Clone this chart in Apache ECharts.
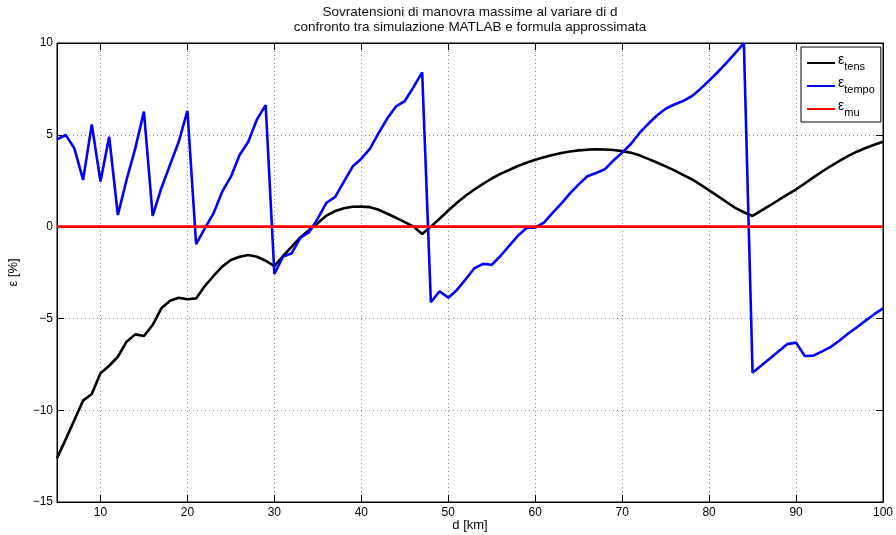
<!DOCTYPE html>
<html>
<head>
<meta charset="utf-8">
<script src="https://cdn.jsdelivr.net/npm/echarts@6/dist/echarts.min.js"></script>
<style>html,body{margin:0;padding:0;background:#fff}#c{width:896px;height:535px}</style>
</head>
<body>
<div id="c"></div>
<script>
const d = [5,6,7,8,9,10,11,12,13,14,15,16,17,18,19,20,21,22,23,24,25,26,27,28,29,30,31,32,33,34,35,36,37,38,39,40,41,42,43,44,45,46,47,48,49,50,51,52,53,54,55,56,57,58,59,60,61,62,63,64,65,66,67,68,69,70,71,72,73,74,75,76,77,78,79,80,81,82,83,84,85,86,87,88,89,90,91,92,93,94,95,96,97,98,99,100];
const epsTens = [-12.62,-11.59,-10.53,-9.48,-9.12,-7.99,-7.58,-7.09,-6.27,-5.87,-5.96,-5.36,-4.45,-4.04,-3.87,-3.96,-3.91,-3.24,-2.69,-2.18,-1.82,-1.64,-1.55,-1.64,-1.86,-2.15,-1.6,-1.09,-0.58,-0.19,0.2,0.6,0.85,1.0,1.08,1.09,1.06,0.92,0.7,0.48,0.24,0.0,-0.4,0.0,0.43,0.88,1.3,1.68,2.02,2.33,2.62,2.87,3.08,3.3,3.48,3.64,3.78,3.9,4.01,4.09,4.15,4.19,4.21,4.2,4.17,4.11,4.02,3.88,3.69,3.49,3.28,3.06,2.82,2.58,2.29,1.97,1.66,1.34,1.02,0.78,0.58,0.87,1.15,1.45,1.74,2.03,2.35,2.68,3.0,3.3,3.58,3.85,4.08,4.28,4.46,4.62];
const epsTempo = [4.75,4.99,4.26,2.54,5.57,2.45,4.9,0.63,2.54,4.26,6.26,0.58,2.09,3.36,4.62,6.31,-0.95,-0.1,0.72,1.9,2.72,3.9,4.62,5.84,6.62,-2.58,-1.63,-1.45,-0.6,-0.3,0.45,1.3,1.62,2.45,3.27,3.7,4.25,5.1,5.9,6.55,6.84,7.6,8.4,-4.12,-3.52,-3.87,-3.45,-2.87,-2.27,-2.03,-2.08,-1.6,-1.05,-0.5,-0.08,-0.05,0.22,0.75,1.25,1.81,2.3,2.74,2.92,3.12,3.6,4.03,4.5,5.1,5.6,6.05,6.42,6.65,6.84,7.1,7.5,7.95,8.42,8.92,9.45,9.98,-7.96,-7.57,-7.18,-6.79,-6.4,-6.32,-7.05,-7.03,-6.8,-6.55,-6.2,-5.82,-5.48,-5.12,-4.77,-4.45];
const epsMu = [0,0,0,0,0,0,0,0,0,0,0,0,0,0,0,0,0,0,0,0,0,0,0,0,0,0,0,0,0,0,0,0,0,0,0,0,0,0,0,0,0,0,0,0,0,0,0,0,0,0,0,0,0,0,0,0,0,0,0,0,0,0,0,0,0,0,0,0,0,0,0,0,0,0,0,0,0,0,0,0,0,0,0,0,0,0,0,0,0,0,0,0,0,0,0,0];
const xTicks = [10,20,30,40,50,60,70,80,90,100];
const yTicks = [-15,-10,-5,0,5,10];
const seriesNames = ['tens','tempo','mu'];
const titleLines = ['Sovratensioni di manovra massime al variare di d','confronto tra simulazione MATLAB e formula approssimata'];

const FONT = 'Liberation Sans, Arial, Helvetica, sans-serif';
const pairs = arr => d.map((x,i)=>[x,arr[i]]);
const fmtY = v => v < 0 ? '\u2212' + Math.abs(v) : String(v);

const chart = echarts.init(document.getElementById('c'), null, {renderer:'canvas'});
const baseX = {type:'value', min:5, max:100, gridIndex:0};
const baseY = {type:'value', min:-15, max:10, interval:5, gridIndex:0};
chart.setOption({
  animation:false,
  backgroundColor:'#fff',
  textStyle:{fontFamily:FONT},
  title:{
    text: titleLines.join('\n'),
    left: 470, top: 5, textAlign:'center', padding:0,
    textStyle:{fontFamily:FONT, fontSize:13.5, fontWeight:'normal', color:'#111', lineHeight:15}
  },
  grid:{left:57, right:13, top:43, bottom:33, show:true, borderColor:'#000', borderWidth:1, backgroundColor:'transparent', containLabel:false, outerBoundsMode:'none'},
  legend:{
    orient:'vertical', left:801, top:47, width:79,
    data: seriesNames,
    backgroundColor:'#fff', borderColor:'#000', borderWidth:1,
    padding:[6,6,4,6], itemGap:4, itemWidth:28, itemHeight:10,
    icon:'path://M0,4 L28,4 L28,6 L0,6 Z',
    formatter: n => '{e|\u03b5}{s|' + n + '}',
    textStyle:{
      fontFamily:FONT, color:'#000', padding:[0,0,0,-2],
      rich:{
        e:{fontFamily:FONT, fontSize:14, color:'#000', padding:[0,0,6,0]},
        s:{fontFamily:FONT, fontSize:11, color:'#000', padding:[7,0,0,0]}
      }
    }
  },
  xAxis:[
    Object.assign({}, baseX, {
      position:'bottom',
      name:'d [km]', nameLocation:'middle', nameGap:17, nameMoveOverlap:false,
      nameTextStyle:{fontFamily:FONT, fontSize:13, color:'#000'},
      axisLine:{show:true, onZero:false, lineStyle:{color:'#000', width:1}},
      axisTick:{show:true, inside:true, length:7, customValues:xTicks, lineStyle:{color:'#000'}},
      axisLabel:{show:true, customValues:xTicks, margin:5, fontFamily:FONT, fontSize:12, color:'#000'},
      splitLine:{show:true, lineStyle:{color:'#8a8a8a', type:[1,3], width:1}}
    }),
    Object.assign({}, baseX, {
      position:'top',
      axisLine:{show:true, onZero:false, lineStyle:{color:'#000', width:1}},
      axisTick:{show:true, inside:true, length:7, customValues:xTicks, lineStyle:{color:'#000'}},
      axisLabel:{show:false},
      splitLine:{show:false}
    })
  ],
  yAxis:[
    Object.assign({}, baseY, {
      position:'left',
      name:'\u03b5 [%]', nameLocation:'middle', nameGap:37, nameRotate:90, nameMoveOverlap:false,
      nameTextStyle:{fontFamily:FONT, fontSize:13, color:'#000'},
      axisLine:{show:true, onZero:false, lineStyle:{color:'#000', width:1}},
      axisTick:{show:true, inside:true, length:7, lineStyle:{color:'#000'}},
      axisLabel:{show:true, margin:4, fontFamily:FONT, fontSize:12, color:'#000', formatter:fmtY},
      splitLine:{show:true, lineStyle:{color:'#8a8a8a', type:[1,3], width:1}}
    }),
    Object.assign({}, baseY, {
      position:'right',
      axisLine:{show:true, onZero:false, lineStyle:{color:'#000', width:1}},
      axisTick:{show:true, inside:true, length:7, lineStyle:{color:'#000'}},
      axisLabel:{show:false},
      splitLine:{show:false}
    })
  ],
  series:[
    {name:seriesNames[0], type:'line', data:pairs(epsTens), xAxisIndex:0, yAxisIndex:0, symbol:'none', lineStyle:{color:'#000', width:2.6}, itemStyle:{color:'#000'}, z:3},
    {name:seriesNames[1], type:'line', data:pairs(epsTempo), xAxisIndex:0, yAxisIndex:0, symbol:'none', lineStyle:{color:'#0000ff', width:2.6}, itemStyle:{color:'#0000ff'}, z:4},
    {name:seriesNames[2], type:'line', data:pairs(epsMu), xAxisIndex:0, yAxisIndex:0, symbol:'none', lineStyle:{color:'#ff0000', width:2.6}, itemStyle:{color:'#ff0000'}, z:5}
  ]
});
</script>
</body>
</html>
